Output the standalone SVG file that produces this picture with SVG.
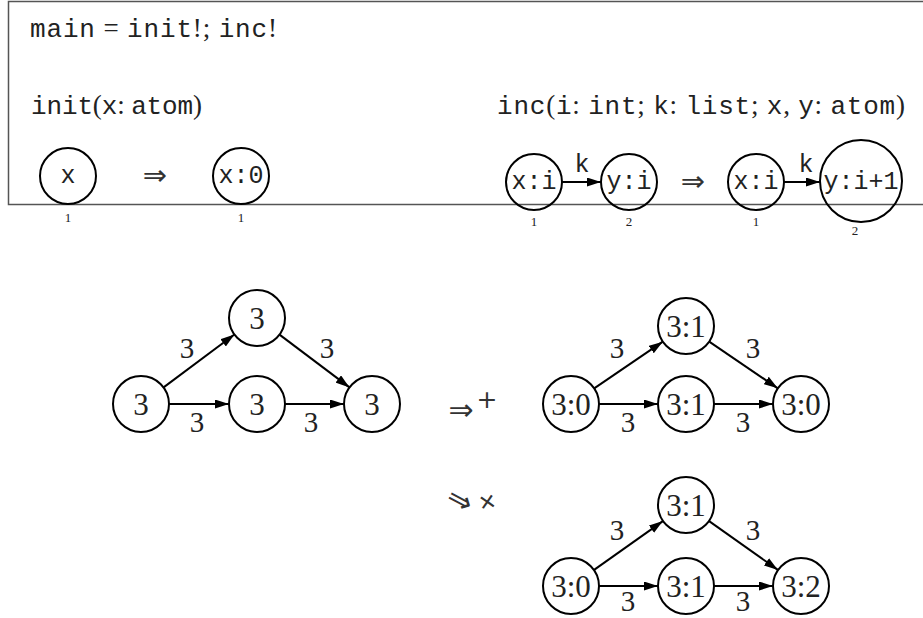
<svg xmlns="http://www.w3.org/2000/svg" width="923" height="618" viewBox="0 0 923 618">
<style>
.tt{font-family:"Liberation Mono","DejaVu Sans Mono",monospace;font-size:26px;fill:#222}
.rm{font-family:"Liberation Serif","Times New Roman",serif;font-size:27px;fill:#222}
.nd{fill:none;stroke:#000;stroke-width:2}
.nt{font-family:"Liberation Mono","DejaVu Sans Mono",monospace;font-size:25px;text-anchor:middle;fill:#222}
.sm{font-family:"Liberation Serif",serif;font-size:13px;text-anchor:middle;fill:#222}
.gn{font-family:"Liberation Serif","Times New Roman",serif;font-size:31px;text-anchor:middle;fill:#222}
.el{font-family:"Liberation Serif","Times New Roman",serif;font-size:29px;text-anchor:middle;fill:#222}
.ed{stroke:#000;stroke-width:2;fill:none;marker-end:url(#ah)}
.sym{font-family:"DejaVu Sans","Liberation Serif",serif;fill:#333;text-anchor:middle}
</style>
<defs>
<marker id="ah" viewBox="0 0 14 9" refX="14" refY="4.5" markerWidth="14" markerHeight="9" markerUnits="userSpaceOnUse" orient="auto">
<path d="M0,0 L14,4.5 L0,9 Z" fill="#000"/>
</marker>
</defs>
<rect x="8.5" y="1.5" width="920" height="203" fill="none" stroke="#555" stroke-width="1.5"/>
<text x="30" y="37" textLength="247" lengthAdjust="spacing"><tspan class="tt">main</tspan><tspan class="rm"> = </tspan><tspan class="tt">init</tspan><tspan class="rm">!; </tspan><tspan class="tt">inc</tspan><tspan class="rm">!</tspan></text>
<text x="31" y="114" textLength="171" lengthAdjust="spacing"><tspan class="tt">init</tspan><tspan class="rm">(</tspan><tspan class="tt">x</tspan><tspan class="rm">: </tspan><tspan class="tt">atom</tspan><tspan class="rm">)</tspan></text>
<text x="497" y="114" textLength="408" lengthAdjust="spacing"><tspan class="tt">inc</tspan><tspan class="rm">(</tspan><tspan class="tt">i</tspan><tspan class="rm">: </tspan><tspan class="tt">int</tspan><tspan class="rm">; </tspan><tspan class="tt">k</tspan><tspan class="rm">: </tspan><tspan class="tt">list</tspan><tspan class="rm">; </tspan><tspan class="tt">x</tspan><tspan class="rm">, </tspan><tspan class="tt">y</tspan><tspan class="rm">: </tspan><tspan class="tt">atom</tspan><tspan class="rm">)</tspan></text>

<g id="init-lhs-x"><circle class="nd" cx="68" cy="176" r="28"/><text class="nt" x="68" y="183">x</text><text class="sm" x="68" y="222">1</text></g>
<text class="sym" x="155" y="185" font-size="29">⇒</text>
<g id="init-rhs-x"><circle class="nd" cx="241" cy="176" r="28"/><text class="nt" x="241" y="183">x:0</text><text class="sm" x="241" y="222">1</text></g>

<g id="inc-lhs-x"><circle class="nd" cx="534" cy="182" r="28"/><text class="nt" x="534" y="189">x:i</text><text class="sm" x="534" y="226">1</text></g>
<g id="inc-lhs-y"><circle class="nd" cx="629" cy="182" r="28"/><text class="nt" x="629" y="189">y:i</text><text class="sm" x="629" y="226">2</text></g>
<text class="sym" x="693" y="191" font-size="29">⇒</text>
<g id="inc-rhs-x"><circle class="nd" cx="756" cy="182" r="28"/><text class="nt" x="756" y="189">x:i</text><text class="sm" x="756" y="226">1</text></g>
<g id="inc-rhs-y"><circle class="nd" cx="861" cy="181" r="41"/><text class="nt" x="861" y="189" font-size="23">y:i+1</text><text class="sm" x="855" y="235">2</text></g>

<g id="g1-A"><circle class="nd" cx="141" cy="404" r="28"/><text class="gn" x="141" y="415">3</text></g>
<g id="g1-B"><circle class="nd" cx="257" cy="318" r="28"/><text class="gn" x="257" y="329">3</text></g>
<g id="g1-C"><circle class="nd" cx="257" cy="404" r="28"/><text class="gn" x="257" y="415">3</text></g>
<g id="g1-D"><circle class="nd" cx="372" cy="404" r="28"/><text class="gn" x="372" y="415">3</text></g>

<text class="sym" x="461" y="420" font-size="30">⇒</text>
<text class="sym" x="487" y="408" font-size="25">+</text>

<g id="g2-A"><circle class="nd" cx="571" cy="404" r="28"/><text class="gn" x="571" y="415">3:0</text></g>
<g id="g2-B"><circle class="nd" cx="686" cy="326" r="28"/><text class="gn" x="686" y="337">3:1</text></g>
<g id="g2-C"><circle class="nd" cx="686" cy="404" r="28"/><text class="gn" x="686" y="415">3:1</text></g>
<g id="g2-D"><circle class="nd" cx="801" cy="404" r="28"/><text class="gn" x="801" y="415">3:0</text></g>

<g transform="rotate(28 460 500)"><text class="sym" x="460" y="510" font-size="30">⇒</text></g>
<g transform="rotate(35 488 501)"><text class="sym" x="488" y="510" font-size="25">+</text></g>

<g id="g3-A"><circle class="nd" cx="571" cy="586" r="28"/><text class="gn" x="571" y="597">3:0</text></g>
<g id="g3-B"><circle class="nd" cx="686" cy="505" r="28"/><text class="gn" x="686" y="516">3:1</text></g>
<g id="g3-C"><circle class="nd" cx="686" cy="586" r="28"/><text class="gn" x="686" y="597">3:1</text></g>
<g id="g3-D"><circle class="nd" cx="801" cy="586" r="28"/><text class="gn" x="801" y="597">3:2</text></g>

<g id="connectors">
<line class="ed" x1="562" y1="182" x2="601" y2="182"/>
<text class="nt" x="582" y="172">k</text>
<line class="ed" x1="784" y1="182" x2="820" y2="182"/>
<text class="nt" x="806" y="172">k</text>

<line class="ed" x1="163.6" y1="387.4" x2="234.4" y2="334.5"/>
<line class="ed" x1="279.5" y1="334.6" x2="349.5" y2="387.4"/>
<line class="ed" x1="169" y1="404" x2="229" y2="404"/>
<line class="ed" x1="285" y1="404" x2="344" y2="404"/>
<text class="el" x="187" y="358">3</text>
<text class="el" x="327" y="358">3</text>
<text class="el" x="197" y="432">3</text>
<text class="el" x="311" y="432">3</text>

<line class="ed" x1="594.2" y1="388.3" x2="662.8" y2="341.7"/>
<line class="ed" x1="709.2" y1="341.7" x2="777.8" y2="388.3"/>
<line class="ed" x1="599" y1="404" x2="658" y2="404"/>
<line class="ed" x1="714" y1="404" x2="773" y2="404"/>
<text class="el" x="617" y="358">3</text>
<text class="el" x="753" y="358">3</text>
<text class="el" x="628" y="432">3</text>
<text class="el" x="743" y="432">3</text>

<line class="ed" x1="594.1" y1="569.9" x2="662.9" y2="521.1"/>
<line class="ed" x1="709.1" y1="521.1" x2="777.9" y2="569.9"/>
<line class="ed" x1="599" y1="586" x2="658" y2="586"/>
<line class="ed" x1="714" y1="586" x2="773" y2="586"/>
<text class="el" x="617" y="540">3</text>
<text class="el" x="753" y="540">3</text>
<text class="el" x="628" y="611">3</text>
<text class="el" x="743" y="611">3</text>
</g>
</svg>
